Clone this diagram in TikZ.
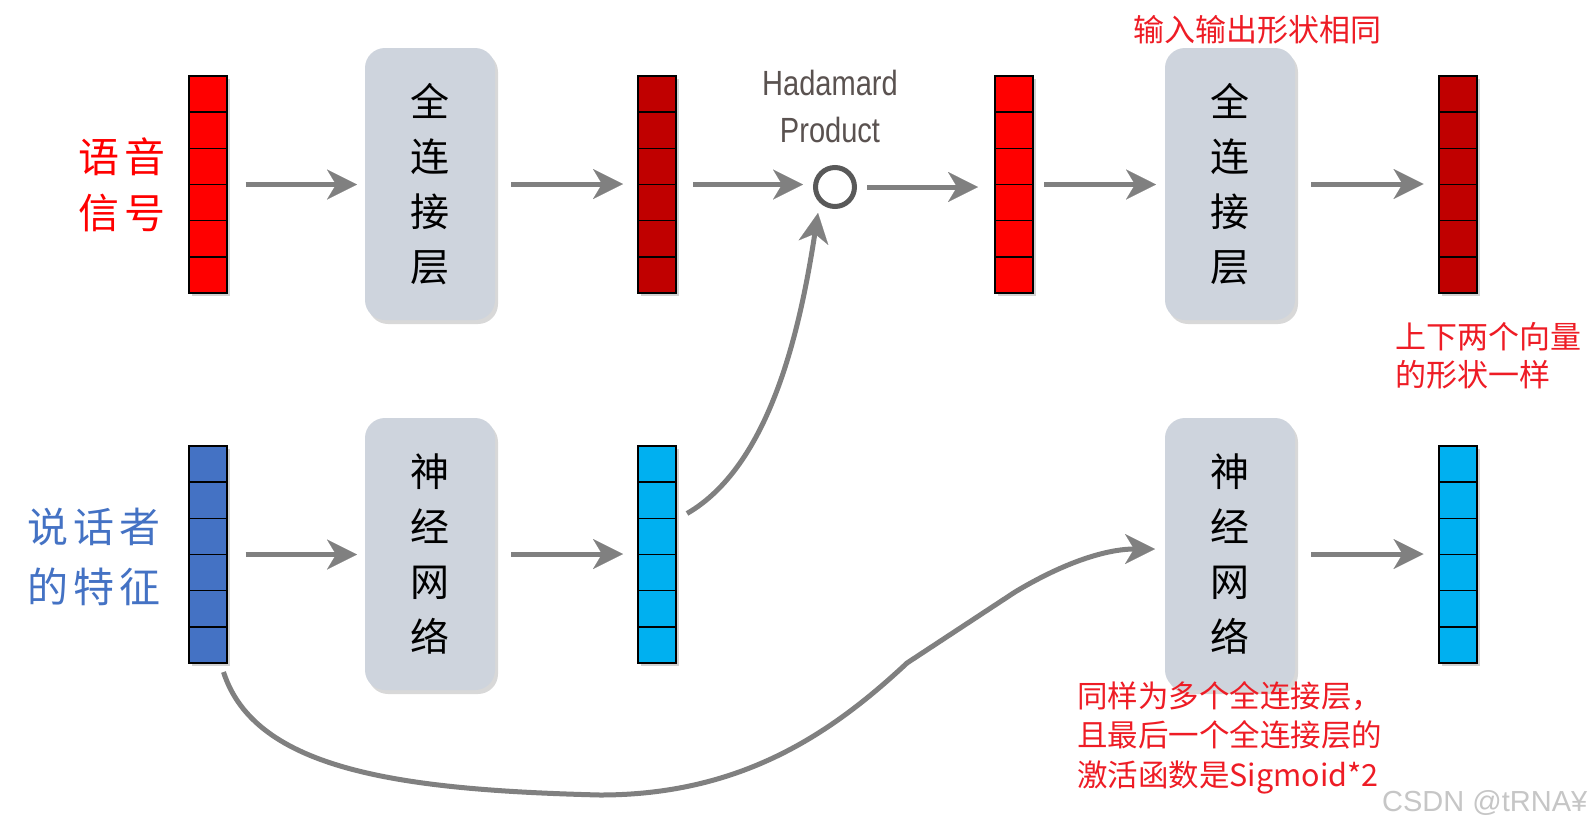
\documentclass[tikz,border=0pt]{standalone}
\usepackage{fontspec}
\newfontfamily\cjk{Noto Sans CJK SC}
\newfontfamily\latinsans{Liberation Sans}
\usetikzlibrary{arrows.meta,shadows,calc}
\definecolor{vred}{HTML}{FF0000}
\definecolor{vdred}{HTML}{C00000}
\definecolor{vblue}{HTML}{4472C4}
\definecolor{vcyan}{HTML}{00B0F0}
\definecolor{boxfill}{HTML}{CED4DD}
\definecolor{arrgray}{HTML}{808080}
\definecolor{notered}{HTML}{EE1C25}
\definecolor{ringgray}{HTML}{595959}
\definecolor{hadgray}{HTML}{5A5250}
\tikzset{
  vecbox/.style={draw=black, line width=2pt, minimum width=38pt, minimum height=217pt,
    inner sep=0pt, outer sep=0pt,
    drop shadow={shadow xshift=3pt, shadow yshift=-3pt, opacity=0.35}},
  fnbox/.style={fill=boxfill, rounded corners=20pt, minimum width=130pt, minimum height=272pt,
    inner sep=0pt, outer sep=0pt, align=center, font={\cjk\fontsize{39}{55}\selectfont},
    drop shadow={shadow xshift=3pt, shadow yshift=-4pt, opacity=0.3}},
  arr/.style={draw=arrgray, line width=5pt,
    -{Stealth[length=30pt, width=30pt, inset=9pt, line width=0.1pt]}},
  note/.style={text=notered, font={\cjk\fontsize{31}{38}\selectfont}, align=left, inner sep=0pt},
}
\begin{document}
\begin{tikzpicture}[x=1pt, y=-1pt]
\fill[white] (0,0) rectangle (1593,831);
\useasboundingbox (0,0) rectangle (1593,831);

% top row
\node[vecbox, fill=vred]  (v1) at (207.5,184.5) {};
\node[fnbox]              (b1) at (430,184) {全\\连\\接\\层};
\node[vecbox, fill=vdred] (v2) at (657,184.5) {};
\node[circle, draw=ringgray, line width=5pt, minimum size=39pt, inner sep=0pt, fill=white] (had) at (835,187) {};
\node[vecbox, fill=vred]  (v3) at (1014,184.5) {};
\node[fnbox]              (b2) at (1230,184) {全\\连\\接\\层};
\node[vecbox, fill=vdred] (v4) at (1457.5,184.5) {};

% bottom row
\node[vecbox, fill=vblue] (v5) at (207.5,554.5) {};
\node[fnbox]              (b3) at (430,554) {神\\经\\网\\络};
\node[vecbox, fill=vcyan] (v6) at (657,554.5) {};
\node[fnbox]              (b4) at (1230,554) {神\\经\\网\\络};
\node[vecbox, fill=vcyan] (v7) at (1457.5,554.5) {};

% cell separators
\foreach \n in {v1,v2,v3,v4,v5,v6,v7}{
  \foreach \i in {1,...,5}{
    \draw[line width=1.5pt] ($(\n.north west)!\i/6!(\n.south west)$) -- ($(\n.north east)!\i/6!(\n.south east)$);
  }
}

% labels
\node[font={\cjk\fontsize{41}{56}\selectfont}, text=vred, align=center, inner sep=0pt] (lab1) at (122,185)
  {语\hspace{6pt}音\\信\hspace{6pt}号};
\node[font={\cjk\fontsize{41}{60}\selectfont}, text=vblue, align=center, inner sep=0pt] (lab2) at (94,557)
  {说\hspace{5pt}话\hspace{5pt}者\\的\hspace{5pt}特\hspace{5pt}征};
\node[font={\latinsans\fontsize{35}{47}\selectfont}, text=hadgray, align=center, inner sep=0pt] (hadlab) at (830,106)
  {\scalebox{0.83}[1]{Hadamard}\\\scalebox{0.83}[1]{Product}};

% straight arrows
\draw[arr, shorten <=19pt, shorten >=8pt]  (v1.east) -- (v1.east -| b1.west);
\draw[arr, shorten <=16pt, shorten >=15pt] (b1.east) -- (b1.east -| v2.west);
\draw[arr, shorten <=17pt, shorten >=10pt] (v2.east) -- (v2.east -| had.west);
\draw[arr, shorten <=10pt, shorten >=17pt] (had.east) -- (had.east -| v3.west);
\draw[arr, shorten <=11pt, shorten >=9pt]  (v3.east) -- (v3.east -| b2.west);
\draw[arr, shorten <=16pt, shorten >=15pt] (b2.east) -- (b2.east -| v4.west);
\draw[arr, shorten <=19pt, shorten >=8pt]  (v5.east) -- (v5.east -| b3.west);
\draw[arr, shorten <=16pt, shorten >=15pt] (b3.east) -- (b3.east -| v6.west);
\draw[arr, shorten <=16pt, shorten >=15pt] (b4.east) -- (b4.east -| v7.west);

% curved arrows
\coordinate (c1s) at ($(v6.east)+(11,-41)$);
\coordinate (c1e) at ($(had.south)+(-17,4)$);
\draw[arr] (c1s) .. controls +(83,-48) and +(-18,117) .. (c1e);

\coordinate (c2s) at ($(v5.south)+(16,9)$);
\coordinate (c2e) at ($(b4.west)+(-10,-5)$);
\draw[arr, line join=round] (c2s) .. controls (255,770) and (400,790) .. (600,795)
  .. controls (740,795) and (830,735) .. (907,663) -- (1015,592)
  .. controls (1075,556) and (1115,549) .. (c2e);

% annotations
\node[note, anchor=west] (n1) at (1133,30) {输入输出形状相同};
\node[note, anchor=west] (n2) at (1395,356) {上下两个向量\\[0pt]的形状一样};
\node[note, anchor=west, font={\cjk\fontsize{30.5}{39.5}\selectfont}] (n3) at (1077,737.5)
  {同样为多个全连接层，\\且最后一个全连接层的\\激活函数是Sigmoid*2};
\node[anchor=west, inner sep=0pt, text=gray!45, font={\latinsans\fontsize{29}{34}\selectfont}] (wm) at (1382,803) {CSDN @tRNA¥};
\end{tikzpicture}
\end{document}
